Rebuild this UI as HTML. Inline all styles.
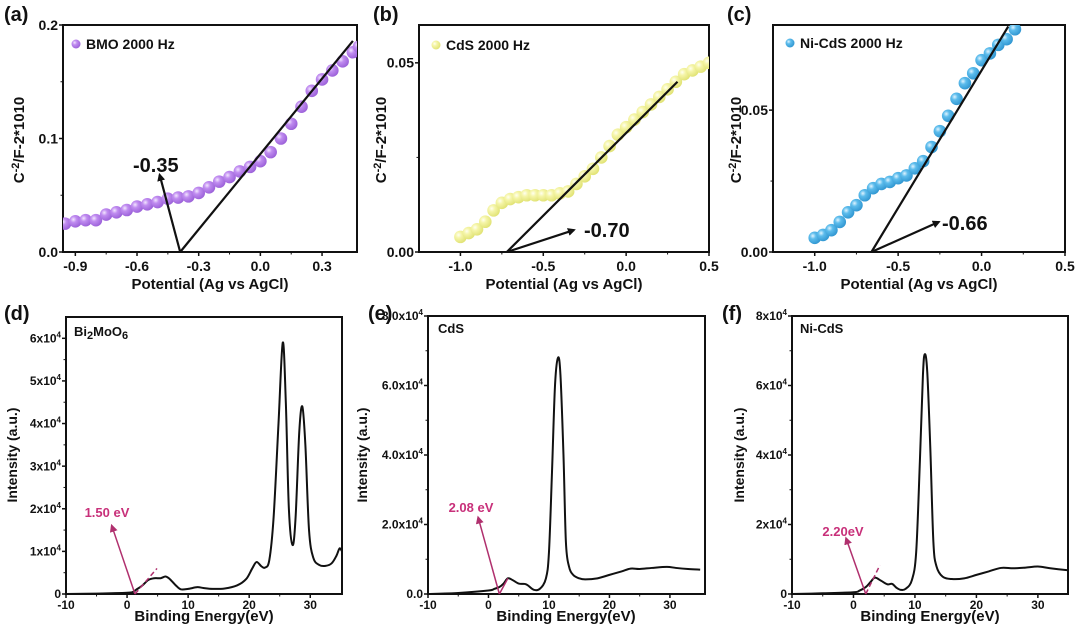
<!DOCTYPE html>
<html><head><meta charset="utf-8"><style>
html,body{margin:0;padding:0;background:#fff;width:1080px;height:627px;overflow:hidden}
svg{display:block;font-family:"Liberation Sans",Arial,sans-serif;font-weight:bold}
</style></head><body>
<svg id="fig" width="1080" height="627" viewBox="0 0 1080 627" xmlns="http://www.w3.org/2000/svg">
<defs>
<radialGradient id="gP" cx="0.35" cy="0.35" r="0.7"><stop offset="0" stop-color="#f3e6ff"/><stop offset="0.35" stop-color="#c08cf0"/><stop offset="1" stop-color="#9a5fd8"/></radialGradient>
<radialGradient id="gY" cx="0.35" cy="0.35" r="0.7"><stop offset="0" stop-color="#fffff0"/><stop offset="0.35" stop-color="#f5f5a8"/><stop offset="1" stop-color="#e0e272"/></radialGradient>
<radialGradient id="gB" cx="0.35" cy="0.35" r="0.7"><stop offset="0" stop-color="#e0f4ff"/><stop offset="0.35" stop-color="#5cbcec"/><stop offset="1" stop-color="#2f95d0"/></radialGradient>
<marker id="arrK" markerWidth="8" markerHeight="8" refX="6" refY="4" orient="auto" markerUnits="userSpaceOnUse"><path d="M0,0 L8,4 L0,8 Z" fill="#111"/></marker>
<marker id="arrM" markerWidth="8" markerHeight="8" refX="6" refY="4" orient="auto" markerUnits="userSpaceOnUse"><path d="M0,0 L8,4 L0,8 Z" fill="#b0306e"/></marker>
</defs>
</svg>
<script>
// ---- data: Mott-Schottky panels ----
const bmoPotential=[-0.95,-0.9,-0.85,-0.8,-0.75,-0.7,-0.65,-0.6,-0.55,-0.5,-0.45,-0.4,-0.35,-0.3,-0.25,-0.2,-0.15,-0.1,-0.05,0,0.05,0.1,0.15,0.2,0.25,0.3,0.35,0.4,0.45,0.48];
const bmoValue=[0.025,0.027,0.028,0.028,0.033,0.035,0.037,0.040,0.042,0.044,0.047,0.048,0.049,0.052,0.057,0.062,0.066,0.071,0.075,0.080,0.088,0.100,0.113,0.128,0.142,0.152,0.160,0.168,0.176,0.181];
const cdsPotential=[-1.0,-0.95,-0.9,-0.85,-0.8,-0.75,-0.7,-0.65,-0.6,-0.55,-0.5,-0.45,-0.4,-0.35,-0.3,-0.25,-0.2,-0.15,-0.1,-0.05,0,0.05,0.1,0.15,0.2,0.25,0.3,0.35,0.4,0.45,0.5];
const cdsValue=[0.004,0.005,0.006,0.008,0.011,0.013,0.014,0.0145,0.015,0.015,0.015,0.015,0.0155,0.016,0.018,0.020,0.022,0.025,0.028,0.031,0.033,0.035,0.037,0.039,0.041,0.043,0.045,0.047,0.048,0.049,0.050];
const nicdsPotential=[-1.0,-0.95,-0.9,-0.85,-0.8,-0.75,-0.7,-0.65,-0.6,-0.55,-0.5,-0.45,-0.4,-0.35,-0.3,-0.25,-0.2,-0.15,-0.1,-0.05,0,0.05,0.1,0.15,0.2];
const nicdsValue=[0.005,0.006,0.0077,0.0106,0.014,0.0165,0.020,0.0225,0.024,0.0247,0.026,0.027,0.0295,0.032,0.037,0.0426,0.048,0.054,0.0595,0.063,0.0676,0.070,0.073,0.075,0.0785];
const bmoFit=[-0.39,0,0.45,0.186]; const bmoArrowTip=[-0.49,0.068];
const cdsFit=[-0.72,0,0.31,0.045]; const cdsArrowTip=[-0.315,0.0058];
const nicdsFit=[-0.66,0,0.16,0.0795]; const nicdsArrowTip=[-0.256,0.0106];
// ---- data: spectra (intensity in 1e4) ----
const bmoEnergy=[-10,-5,0,1,1.5,2.5,3.5,4.5,5.5,6.3,7,8,8.8,10,11.5,12.5,14,16,18,19.5,20.5,21.2,22,22.6,23.3,24,24.8,25.5,26,26.5,27.1,27.6,28.2,28.7,29.2,29.8,30.5,31.5,32.5,33.5,34.3,34.8,35.2];
const bmoIntensity=[0,0.01,0.03,0.05,0.1,0.2,0.33,0.37,0.37,0.41,0.35,0.2,0.11,0.12,0.16,0.14,0.12,0.13,0.2,0.35,0.6,0.75,0.65,0.62,0.8,1.8,4.0,5.9,4.5,2.0,1.15,1.8,3.8,4.4,3.5,1.5,0.85,0.68,0.66,0.72,0.9,1.07,1.0];
const cdsEnergy=[-10,-5,0,1,1.8,2.5,3.2,4,5,6,6.5,7.5,8.5,9.5,10,10.5,11,11.5,11.9,12.4,12.8,13.3,14,15,16,18,20,22,23.5,25,27,29.5,31,33,35];
const cdsIntensity=[0,0.03,0.1,0.15,0.2,0.3,0.45,0.4,0.3,0.29,0.25,0.12,0.15,0.45,1.2,3.5,6.0,6.8,6.3,4,1.5,0.8,0.55,0.45,0.42,0.45,0.55,0.65,0.73,0.72,0.75,0.78,0.75,0.72,0.7];
const nicdsEnergy=[-10,-5,0,1,2,2.8,3.5,4.5,5.5,6.3,7,7.7,8.5,9.5,10.2,10.8,11.3,11.6,12,12.5,13,13.5,14.5,16,18,20,22,24,26,28,30,32,35];
const nicdsIntensity=[0,0.02,0.05,0.1,0.2,0.35,0.47,0.38,0.28,0.29,0.18,0.12,0.15,0.4,1.2,3.8,6.3,6.9,6.4,4.2,1.5,0.8,0.5,0.43,0.45,0.55,0.65,0.75,0.74,0.76,0.79,0.74,0.68];
const bmoTangent=[1.3,0,4.9,0.6]; const bmoGapTip=[-2.5,1.6];
const cdsTangent=[1.8,0,3.2,0.45]; const cdsGapTip=[-1.7,2.2];
const nicdsTangent=[2.0,0,4.3,0.83]; const nicdsGapTip=[-1.2,1.6];
// ticks
const msTicksA=[-0.9,-0.6,-0.3,0.0,0.3]; const msTickLabelsA=["-0.9","-0.6","-0.3","0.0","0.3"];
const msYTicksA=[0,0.1,0.2]; const msYLabelsA=["0.0","0.1","0.2"];
const msTicksBC=[-1.0,-0.5,0.0,0.5]; const msTickLabelsBC=["-1.0","-0.5","0.0","0.5"];
const msYTicksBC=[0,0.05]; const msYLabelsBC=["0.00","0.05"];
const beTicks=[-10,0,10,20,30]; const beTickLabels=["-10","0","10","20","30"];
const dYTicks=[0,1,2,3,4,5,6]; const dYLabels=["0","1x10","2x10","3x10","4x10","5x10","6x10"];
const eYTicks=[0,2,4,6,8]; const eYLabels=["0.0","2.0x10","4.0x10","6.0x10","8.0x10"];
const fYTicks=[0,2,4,6,8]; const fYLabels=["0","2x10","4x10","6x10","8x10"];

const NS="http://www.w3.org/2000/svg";
const svg=document.getElementById('fig');
function el(tag,attrs,parent){const e=document.createElementNS(NS,tag);for(const k in attrs)e.setAttribute(k,attrs[k]);(parent||svg).appendChild(e);return e;}
function lin(d0,d1,r0,r1){return v=>r0+(v-d0)*(r1-r0)/(d1-d0);}

function panel(p){
  const g=el('g',{});
  
  
  const sx=lin(p.xd[0],p.xd[1],p.x0,p.x1), sy=lin(p.yd[0],p.yd[1],p.y0,p.y1);
  const cid='clip-'+p.name;
  const cp=el('clipPath',{id:cid},g); el('rect',{x:p.x0,y:p.y1,width:p.x1-p.x0,height:p.y0-p.y1},cp);
  const fr=el('rect',{x:p.x0,y:p.y1,width:p.x1-p.x0,height:p.y0-p.y1,fill:'none',stroke:'#111','stroke-width':2},g);
  
  
  p.xt.forEach((v,i)=>{const x=sx(v);
    el('line',{x1:x,y1:p.y0,x2:x,y2:p.y0+4,stroke:'#111','stroke-width':1.5},g);
    const t=el('text',{x:x,y:p.y0+p.xlOff,'text-anchor':'middle','font-size':p.tfs,fill:'#111'},g);t.textContent=p.xl[i];
    
    
    if(i<p.xt.length-1){const xm=sx((v+p.xt[i+1])/2);el('line',{x1:xm,y1:p.y0,x2:xm,y2:p.y0+2.5,stroke:'#111','stroke-width':1},g);}
  });
  p.yt.forEach((v,i)=>{const y=sy(v);
    el('line',{x1:p.x0,y1:y,x2:p.x0-4,y2:y,stroke:'#111','stroke-width':1.5},g);
    const t=el('text',{x:p.x0-5,y:y+p.tfs*0.35,'text-anchor':'end','font-size':p.tfs,fill:'#111'},g);
    
    
    t.textContent=p.yl[i];
    if(p.sup&&v!==0){const s=el('tspan',{dy:-5,'font-size':8},t);s.textContent='4';}
    if(i<p.yt.length-1){const ym=sy((v+p.yt[i+1])/2);el('line',{x1:p.x0,y1:ym,x2:p.x0-2.5,y2:ym,stroke:'#111','stroke-width':1},g);}
  });
  return {g,sx,sy,cid};
}
function label(txt,x,y,fs,name,anchor,fill,rot){
  const t=el('text',{x:x,y:y,'font-size':fs,fill:fill||'#111','text-anchor':anchor||'start'});
  if(rot)t.setAttribute('transform','rotate(-90 '+x+' '+y+')');
  t.textContent=txt;
  
  
  return t;
}
function ytitleMS(x,y){
  const t=el('text',{x:x,y:y,'font-size':15,fill:'#111','text-anchor':'middle',transform:'rotate(-90 '+x+' '+y+')'});
  
  
  const a=el('tspan',{},t);a.textContent='C';
  const b=el('tspan',{dy:-5,'font-size':11},t);b.textContent='-2';
  const c=el('tspan',{dy:5},t);c.textContent='/F-2*1010';
}
function msPanel(p,xs,ys,grad,fit,tip,val,vx,vy,leg,lx,ly){
  const P=panel(p);
  const dg=el('g',{'clip-path':'url(#'+P.cid+')'},P.g);
  xs.forEach((x,i)=>{
    const c=el('circle',{cx:P.sx(x),cy:P.sy(ys[i]),r:6.3,fill:'url(#'+grad+')'},dg);
    
    
  });
  const l=el('line',{x1:P.sx(fit[0]),y1:P.sy(fit[1]),x2:P.sx(fit[2]),y2:P.sy(fit[3]),stroke:'#111','stroke-width':2.2},P.g);
  
  
  const a=el('line',{x1:P.sx(fit[0]),y1:P.sy(fit[1]),x2:P.sx(tip[0]),y2:P.sy(tip[1]),stroke:'#111','stroke-width':2.2,'marker-end':'url(#arrK)'},P.g);
  
  
  label(val,vx,vy,20,'intercept-value');
  const lc=el('circle',{cx:lx,cy:ly,r:4.5,fill:'url(#'+grad+')'});
  
  
  label(leg,lx+10,ly+5,14,'legend-entry');
}
function smoothPath(pts){
  let d='M'+pts[0][0]+','+pts[0][1];
  for(let i=0;i<pts.length-1;i++){
    const p0=pts[Math.max(0,i-1)],p1=pts[i],p2=pts[i+1],p3=pts[Math.min(pts.length-1,i+2)];
    const c1=[p1[0]+(p2[0]-p0[0])/6,p1[1]+(p2[1]-p0[1])/6],c2=[p2[0]-(p3[0]-p1[0])/6,p2[1]-(p3[1]-p1[1])/6];
    d+=' C'+c1[0]+','+c1[1]+' '+c2[0]+','+c2[1]+' '+p2[0]+','+p2[1];
  }
  return d;
}
function spPanel(p,xs,ys,tan,tip,dashed,val,vx,vy){
  const P=panel(p);
  const pts=xs.map((x,i)=>[P.sx(x),P.sy(ys[i])]);
  const path=el('path',{d:smoothPath(pts),fill:'none',stroke:'#111','stroke-width':2,'clip-path':'url(#'+P.cid+')'},P.g);
  
  
  const t=el('line',{x1:P.sx(tan[0]),y1:P.sy(tan[1]),x2:P.sx(tan[2]),y2:P.sy(tan[3]),stroke:'#b0306e','stroke-width':1.5},P.g);
  if(dashed)t.setAttribute('stroke-dasharray','5 3');
  
  
  const a=el('line',{x1:P.sx(tan[0]),y1:P.sy(tan[1]),x2:P.sx(tip[0]),y2:P.sy(tip[1]),stroke:'#b0306e','stroke-width':1.5,'marker-end':'url(#arrM)'},P.g);
  
  
  label(val,vx,vy,13,'band-edge-value','middle','#c8307a');
}

msPanel({name:'panel-a',x0:63,x1:357,y0:252,y1:25,xd:[-0.96,0.47],yd:[0,0.2],xt:msTicksA,xl:msTickLabelsA,yt:msYTicksA,yl:msYLabelsA,tfs:14,xlOff:19},
  bmoPotential,bmoValue,'gP',bmoFit,bmoArrowTip,'-0.35',133,172,'BMO 2000 Hz',76,44);
msPanel({name:'panel-b',x0:419,x1:709,y0:252,y1:25,xd:[-1.25,0.5],yd:[0,0.06],xt:msTicksBC,xl:msTickLabelsBC,yt:msYTicksBC,yl:msYLabelsBC,tfs:14,xlOff:19},
  cdsPotential,cdsValue,'gY',cdsFit,cdsArrowTip,'-0.70',584,237,'CdS 2000 Hz',436,45);
msPanel({name:'panel-c',x0:773,x1:1065,y0:252,y1:25,xd:[-1.25,0.5],yd:[0,0.08],xt:msTicksBC,xl:msTickLabelsBC,yt:msYTicksBC,yl:msYLabelsBC,tfs:14,xlOff:19},
  nicdsPotential,nicdsValue,'gB',nicdsFit,nicdsArrowTip,'-0.66',942,230,'Ni-CdS 2000 Hz',790,43);

spPanel({name:'panel-d',x0:66,x1:342,y0:594,y1:317,xd:[-10,35.2],yd:[0,6.5],xt:beTicks,xl:beTickLabels,yt:dYTicks,yl:dYLabels,tfs:12,xlOff:15,sup:true},
  bmoEnergy,bmoIntensity,bmoTangent,bmoGapTip,true,'1.50 eV',107,517);
spPanel({name:'panel-e',x0:428,x1:705,y0:594,y1:316,xd:[-10,35.8],yd:[0,8],xt:beTicks,xl:beTickLabels,yt:eYTicks,yl:eYLabels,tfs:12,xlOff:15,sup:true},
  cdsEnergy,cdsIntensity,cdsTangent,cdsGapTip,false,'2.08 eV',471,512);
spPanel({name:'panel-f',x0:792,x1:1068,y0:594,y1:316,xd:[-10,34.9],yd:[0,8],xt:beTicks,xl:beTickLabels,yt:fYTicks,yl:fYLabels,tfs:12,xlOff:15,sup:true},
  nicdsEnergy,nicdsIntensity,nicdsTangent,nicdsGapTip,true,'2.20eV',843,536);

label('Potential (Ag vs AgCl)',210,289,15,'x-axis-title','middle');
label('Potential (Ag vs AgCl)',564,289,15,'x-axis-title','middle');
label('Potential (Ag vs AgCl)',919,289,15,'x-axis-title','middle');
ytitleMS(24,140); ytitleMS(386,140); ytitleMS(741,140);
label('Binding Energy(eV)',204,621,15,'x-axis-title','middle');
label('Binding Energy(eV)',566,621,15,'x-axis-title','middle');
label('Binding Energy(eV)',930,621,15,'x-axis-title','middle');
label('Intensity (a.u.)',17,455,14,'y-axis-title','middle',null,true);
label('Intensity (a.u.)',367,455,14,'y-axis-title','middle',null,true);
label('Intensity (a.u.)',744,455,14,'y-axis-title','middle',null,true);
label('(a)',4,21,20,'panel-letter-a'); label('(b)',373,21,20,'panel-letter-b'); label('(c)',727,21,20,'panel-letter-c');
label('(d)',4,320,20,'panel-letter-d'); label('(e)',368,320,20,'panel-letter-e'); label('(f)',722,320,20,'panel-letter-f');
(function(){const t=el('text',{x:74,y:336,'font-size':13,fill:'#111'});


const a=el('tspan',{},t);a.textContent='Bi';const b=el('tspan',{dy:3,'font-size':11},t);b.textContent='2';
const c=el('tspan',{dy:-3},t);c.textContent='MoO';const d=el('tspan',{dy:3,'font-size':11},t);d.textContent='6';})();
label('CdS',438,333,13,'sample-label');
label('Ni-CdS',800,333,13,'sample-label');
</script>
</body></html>
